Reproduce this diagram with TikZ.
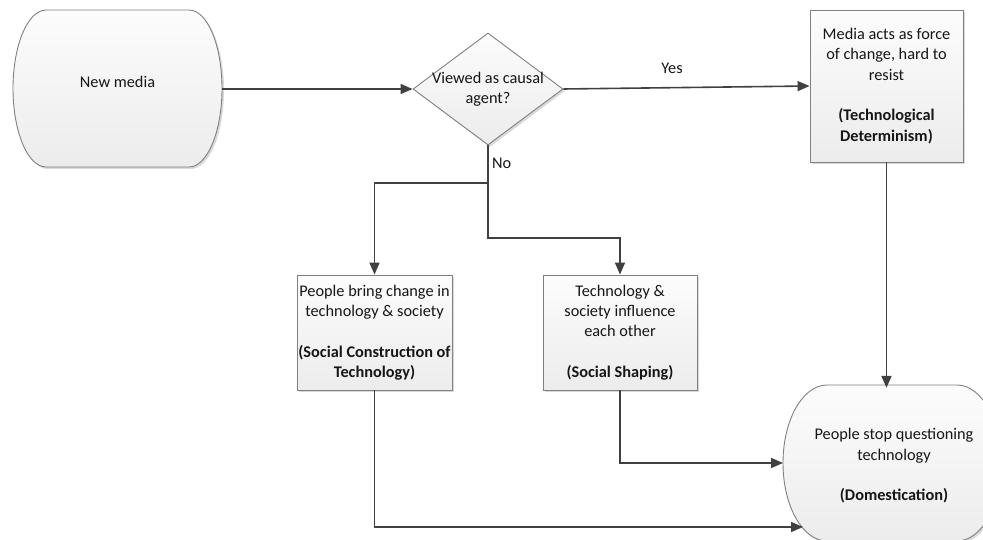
\documentclass[tikz,border=0pt]{standalone}
\usepackage{fontspec}
\setmainfont{Carlito}
\usetikzlibrary{arrows.meta,shapes.geometric,shadows}
\definecolor{edgegray}{HTML}{808080}
\definecolor{conngray}{HTML}{404040}
\definecolor{filltop}{HTML}{FCFCFC}
\definecolor{fillbot}{HTML}{ECECEC}
\definecolor{txtcol}{HTML}{161616}
\tikzset{
  txt/.style={font=\fontsize{16.3}{20.3}\selectfont, text=txtcol, align=center},
  boxfill/.style={top color=filltop, bottom color=fillbot, draw=edgegray, line width=0.9pt,
    drop shadow={shadow xshift=2pt, shadow yshift=-2pt, opacity=0.25, fill=black!60}},
  procbox/.style={txt, boxfill, rectangle, inner sep=0pt},
  decbox/.style={txt, boxfill, diamond, inner sep=-16pt},
  termtext/.style={txt, rectangle, inner sep=0pt, draw=none},
  conn/.style={draw=conngray, line width=1.6pt, -{Triangle[length=12pt,width=10pt]}},
  plainline/.style={draw=conngray, line width=1.6pt},
  lab/.style={txt, inner sep=0pt}
}
\begin{document}
\begin{tikzpicture}[x=1pt,y=-1pt]
\useasboundingbox (0,0) rectangle (983,540);
% terminator shapes
\path[boxfill] (46,10) -- (189,10) .. controls (207.2,10) and (222,45.1) .. (222,88.5)
  .. controls (222,131.9) and (207.2,167) .. (189,167) -- (46,167)
  .. controls (27.8,167) and (13,131.9) .. (13,88.5)
  .. controls (13,45.1) and (27.8,10) .. cycle;
\path[boxfill] (827,385) -- (957,385) .. controls (981.3,385) and (1001,419.9) .. (1001,463)
  .. controls (1001,506.1) and (981.3,541) .. (957,541) -- (827,541)
  .. controls (802.7,541) and (783,506.1) .. (783,463)
  .. controls (783,419.9) and (802.7,385) .. cycle;
\node[termtext, minimum width=209pt, minimum height=157pt] (nm) at (117.5,82) {New media};
\node[termtext, minimum width=218pt, minimum height=156pt] (dom) at (894,466)
  {People stop questioning\\technology\\[20.3pt]\textbf{(Domestication)}};
% decision and process boxes
\node[decbox, minimum width=150pt, minimum height=112pt] (dia) at (488,89) {Viewed as causal\\agent?};
\node[procbox, minimum width=153pt, minimum height=152pt] (td) at (886.5,86)
  {Media acts as force\\of change, hard to\\resist\\[20.3pt]\textbf{(Technological}\\\textbf{Determinism)}};
\node[procbox, minimum width=155pt, minimum height=115pt] (scot) at (374.5,332.5)
  {People bring change in\\technology \& society\\[20.3pt]\textbf{(Social Construction of}\\\textbf{Technology)}};
\node[procbox, minimum width=154pt, minimum height=115pt] (ss) at (620,332.5)
  {Technology \&\\society influence\\each other\\[20.3pt]\textbf{(Social Shaping)}};
% junction coordinates
\coordinate (split) at (488,183);
\coordinate (bend) at (488,238);
\coordinate (domlow) at (803,527);
\coordinate (domleft) at (783,463);
% connectors
\draw[conn] (nm.east |- dia.west) -- (dia.west);
\draw[conn] (dia.east) -- (td.west);
\draw[conn] (td.south) -- (td.south |- dom.north);
\draw[plainline] (dia.south) -- (split);
\draw[conn] (split) -| (scot.north);
\draw[conn] (split) -- (bend) -| (ss.north);
\draw[conn] (ss.south) |- (domleft);
\draw[conn] (scot.south) |- (domlow);
% labels
\node[lab] (yes) at (672,68) {Yes};
\node[lab, anchor=west] (no) at (492,163) {No};
\end{tikzpicture}
\end{document}
